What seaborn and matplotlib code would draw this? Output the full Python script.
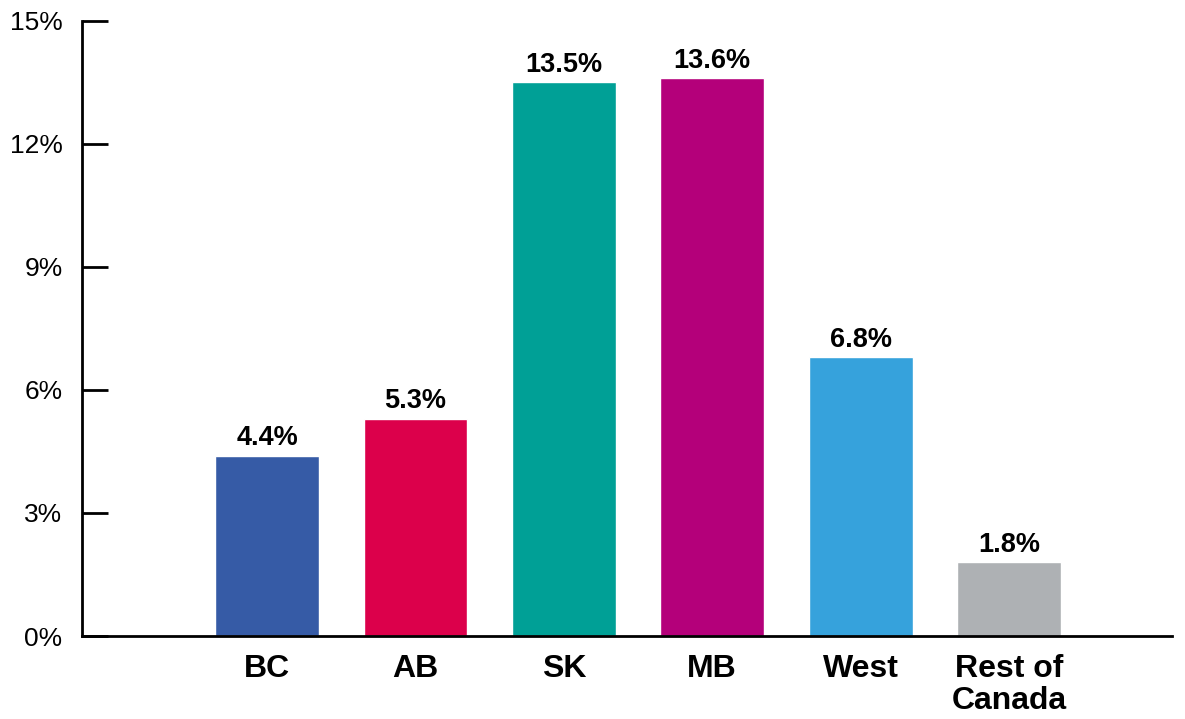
import matplotlib
matplotlib.use('Agg')
import matplotlib.pyplot as plt
import seaborn as sns
from matplotlib.ticker import FuncFormatter

# data
regions = ['BC', 'AB', 'SK', 'MB', 'West', 'Rest of\nCanada']
shares = [4.4, 5.3, 13.5, 13.6, 6.8, 1.8]
bar_colors = ['#365BA6', '#DC004B', '#00A096', '#B4007A', '#36A2DC', '#AEB1B4']
y_ticks = [0, 3, 6, 9, 12, 15]

sns.set_style('white')
plt.rcParams['font.family'] = ['Liberation Sans', 'DejaVu Sans']
plt.rcParams['text.color'] = 'black'
plt.rcParams['xtick.color'] = 'black'
plt.rcParams['ytick.color'] = 'black'

fig = plt.figure(figsize=(11.85, 7.19), dpi=100)
ax = fig.add_axes([0.0692, 0.1154, 0.9198, 0.8558])

sns.barplot(x=regions, y=shares, hue=regions, palette=dict(zip(regions, bar_colors)),
            width=0.7, saturation=1, legend=False, ax=ax)

# value labels above the bars
for cont in ax.containers:
    ax.bar_label(cont, fmt='%.1f%%', padding=3, fontsize=19.5, fontweight='bold',
                 color='black')

ax.set_ylim(0, 15)
ax.set_xlim(-1.247, 6.098)
ax.set_yticks(y_ticks)
ax.yaxis.set_major_formatter(FuncFormatter(lambda v, p: f'{v:.0f}%'))

for side in ['top', 'right']:
    ax.spines[side].set_visible(False)
for side in ['left', 'bottom']:
    ax.spines[side].set_color('black')
    ax.spines[side].set_linewidth(2)

ax.tick_params(axis='y', left=True, direction='in', length=19, width=2,
               color='black', labelcolor='black', labelsize=19, pad=14)
ax.tick_params(axis='x', length=0, labelsize=23, pad=13, labelcolor='black')
for lbl in ax.get_xticklabels():
    lbl.set_fontweight('bold')
    lbl.set_linespacing(1.1)
    lbl.set_verticalalignment('top')

ax.set_xlabel('')
ax.set_ylabel('')

plt.savefig('out.png', dpi=100)
